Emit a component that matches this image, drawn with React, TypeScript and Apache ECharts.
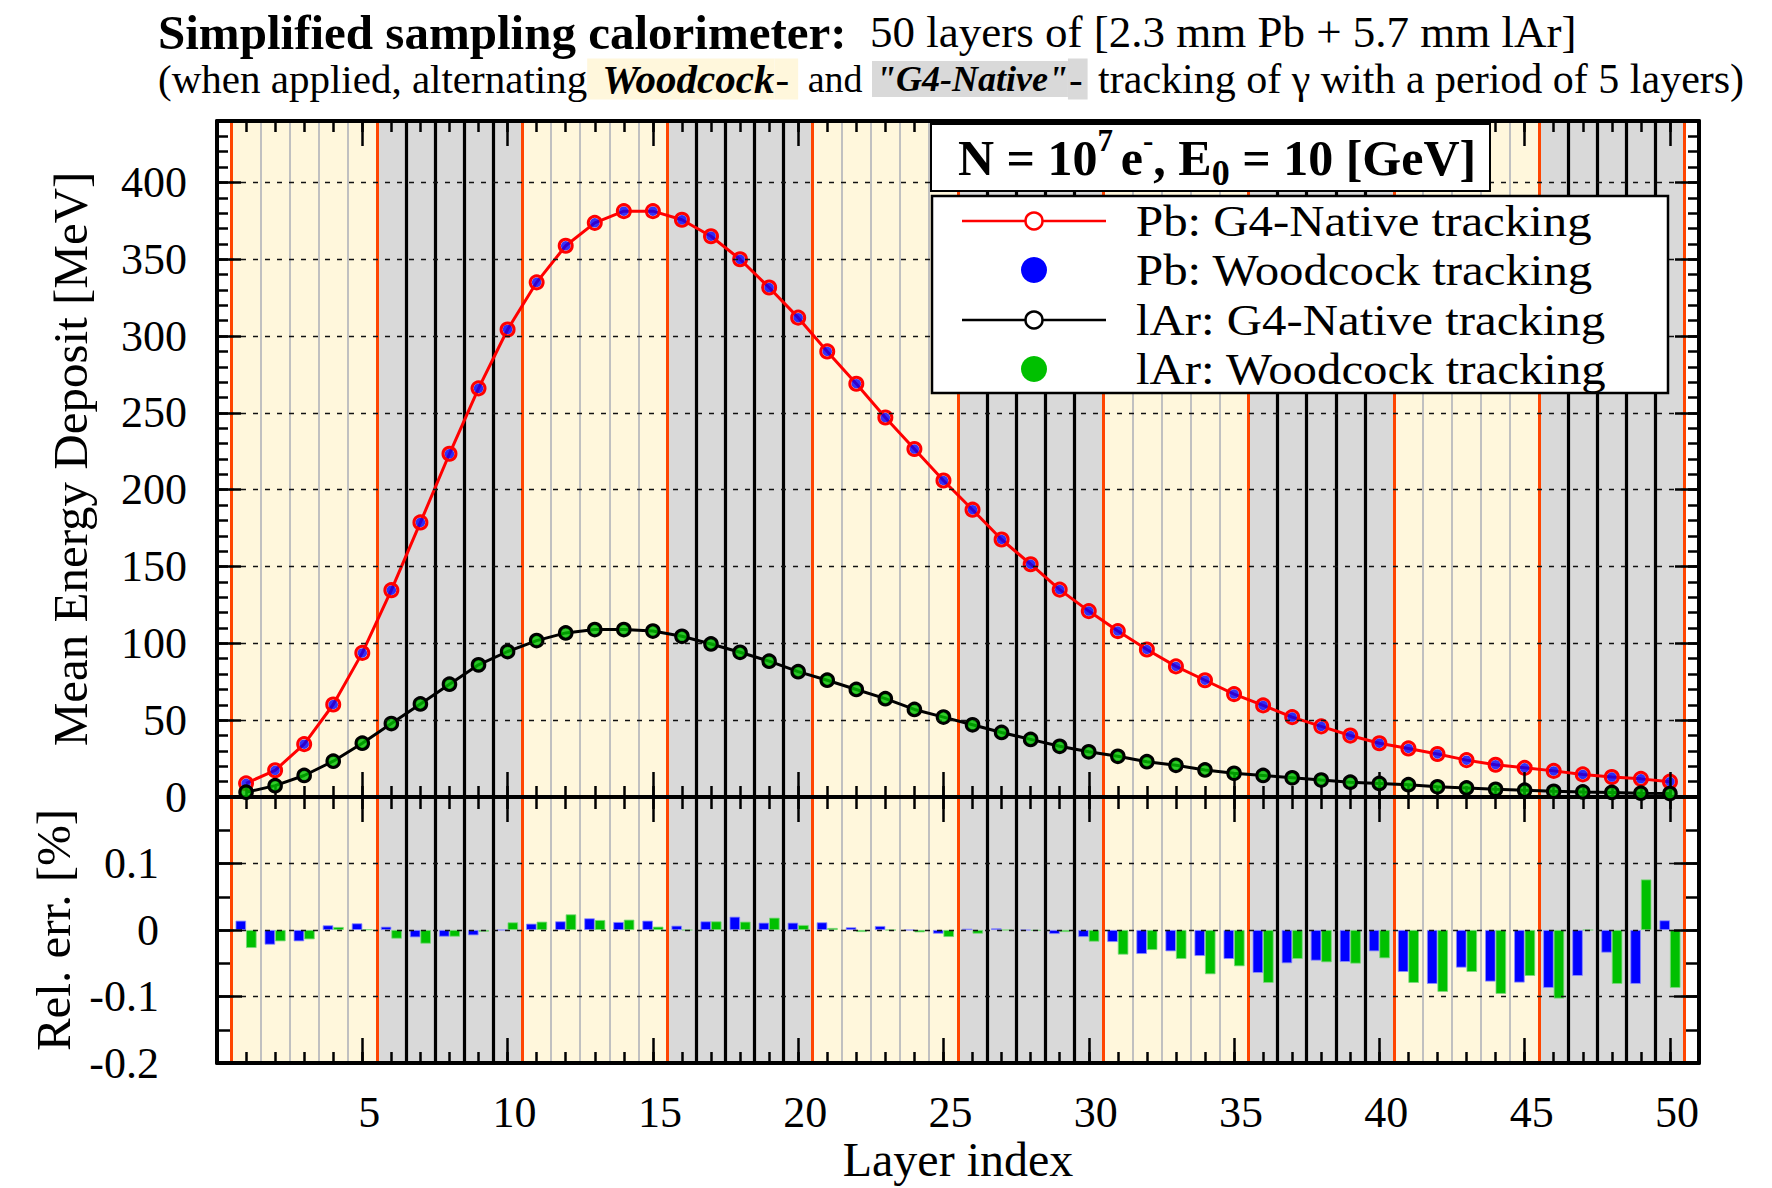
import React, { useEffect, useRef } from "react";
import * as echarts from "echarts";

// ---------------- data ----------------
const layers = [
  1, 2, 3, 4, 5, 6, 7, 8, 9, 10, 11, 12, 13, 14, 15, 16, 17, 18, 19, 20, 21, 22, 23, 24, 25,
  26, 27, 28, 29, 30, 31, 32, 33, 34, 35, 36, 37, 38, 39, 40, 41, 42, 43, 44, 45, 46, 47, 48, 49, 50,
];
// tracking mode of each block of 5 layers
const blockTracking = [
  "Woodcock", "G4-Native", "Woodcock", "G4-Native", "Woodcock",
  "G4-Native", "Woodcock", "G4-Native", "Woodcock", "G4-Native",
];
const pbNative = [
  8.9, 17.4, 34.4, 60.2, 93.8, 134.6, 178.7, 223.4, 266, 304.3,
  335, 358.8, 373.7, 381.3, 381.3, 375.7, 365, 350, 331.6, 312,
  290, 269, 247, 226.5, 206, 187, 167.6, 151.5, 135, 121,
  108, 96, 85, 76, 67, 59.6, 52, 46, 40, 35,
  31.6, 28, 24, 21, 19, 17, 14.7, 13, 11.8, 10,
];
const pbWoodcock = [
  8.9, 17.4, 34.4, 60.2, 93.8, 134.6, 178.7, 223.4, 266, 304.3,
  335, 358.8, 373.7, 381.3, 381.3, 375.7, 365, 350, 331.6, 312,
  290, 269, 247, 226.5, 206, 187, 167.6, 151.5, 135, 121,
  108, 96, 85, 76, 67, 59.6, 52, 46, 40, 35,
  31.6, 28, 24, 21, 19, 17, 14.7, 13, 11.8, 10,
];
const arNative = [
  3.1, 7.4, 14, 23.3, 35, 47.8, 60.6, 73.4, 86, 94.7,
  101.8, 106.8, 109, 109, 108, 104.6, 99.6, 94.2, 88.4, 81.6,
  76, 70, 64, 57, 52, 47, 42, 37.5, 33, 29.4,
  26.5, 23, 20.6, 17.6, 15.4, 14, 12.5, 11, 9.6, 8.8,
  8, 6.6, 5.9, 5, 4.4, 3.7, 3.3, 3, 2.5, 2.2,
];
const arWoodcock = [
  3.1, 7.4, 14, 23.3, 35, 47.8, 60.6, 73.4, 86, 94.7,
  101.8, 106.8, 109, 109, 108, 104.6, 99.6, 94.2, 88.4, 81.6,
  76, 70, 64, 57, 52, 47, 42, 37.5, 33, 29.4,
  26.5, 23, 20.6, 17.6, 15.4, 14, 12.5, 11, 9.6, 8.8,
  8, 6.6, 5.9, 5, 4.4, 3.7, 3.3, 3, 2.5, 2.2,
];
// relative error [%]
const relErrPb = [
  0.014, -0.022, -0.017, 0.007, 0.01, 0.005, -0.011, -0.01, -0.008, 0.0,
  0.0095, 0.013, 0.0175, 0.012, 0.014, 0.0065, 0.013, 0.02, 0.011, 0.011,
  0.0115, 0.004, 0.006, 0.0, -0.0055, 0.002, 0.0025, 0.0, -0.006, -0.0105,
  -0.018, -0.036, -0.032, -0.039, -0.0435, -0.0645, -0.05, -0.046, -0.048, -0.032,
  -0.063, -0.081, -0.0565, -0.0775, -0.079, -0.087, -0.069, -0.034, -0.081, 0.0145,
];
const relErrAr = [
  -0.027, -0.017, -0.014, 0.0045, 0.001, -0.013, -0.0205, -0.01, -0.0025, 0.0115,
  0.0125, 0.0235, 0.015, 0.0155, 0.005, 0.0, 0.013, 0.0125, 0.0185, 0.0075,
  0.003, -0.003, 0.0, -0.0035, -0.0105, -0.0055, 0.0, -0.001, -0.003, -0.0175,
  -0.037, -0.03, -0.0435, -0.0665, -0.0545, -0.0795, -0.0435, -0.0485, -0.0505, -0.0425,
  -0.0795, -0.093, -0.063, -0.096, -0.069, -0.103, 0.0, -0.081, 0.076, -0.087,
];
const xTickLabels = [5, 10, 15, 20, 25, 30, 35, 40, 45, 50];
const yTopTickLabels = [0, 50, 100, 150, 200, 250, 300, 350, 400];
const yBottomTickLabels = ["-0.2", "-0.1", "0", "0.1"];

const seriesNames = [
  "Pb: G4-Native tracking",
  "Pb: Woodcock tracking",
  "lAr: G4-Native tracking",
  "lAr: Woodcock tracking",
];

// ---------------- style ----------------
const FONT = "'Liberation Serif', 'Times New Roman', serif";
const RED = "#ff0000";
const BLUE = "#0000ff";
const GREEN = "#00c000";
const BLACK = "#000000";
const YELLOW_BG = "#fff7dc";
const GRAY_BG = "#d9d9d9";

const G0 = { left: 217, top: 121, width: 1482, height: 676 };
const G1 = { left: 217, top: 797, width: 1482, height: 266 };

const frameLine = { show: true, onZero: false, lineStyle: { color: BLACK, width: 4 } };
const noLine = { show: false, onZero: false };

function xAx(gridIndex: number, position: string, interval: number, len: number, frame: boolean, extra: any = {}) {
  return {
    type: "value",
    gridIndex,
    position,
    min: 0,
    max: 51,
    interval,
    axisLine: frame ? frameLine : noLine,
    axisTick: { show: true, inside: true, length: len, lineStyle: { color: BLACK, width: 2.5 } },
    axisLabel: { show: false },
    splitLine: { show: false },
    z: 8,
    ...extra,
  };
}

function yAx(gridIndex: number, position: string, min: number, max: number, interval: number, len: number, frame: boolean, extra: any = {}) {
  return {
    type: "value",
    gridIndex,
    position,
    min,
    max,
    interval,
    axisLine: frame ? frameLine : noLine,
    axisTick: { show: true, inside: true, length: len, lineStyle: { color: BLACK, width: 2.5 } },
    axisLabel: { show: false },
    splitLine: { show: false },
    z: 8,
    ...extra,
  };
}

const dashed = { show: true, lineStyle: { color: "#111", width: 1.3, type: [5, 7] } };

function buildBackground(xi: number, yi: number, name: string) {
  const blockColor: Record<string, string> = { Woodcock: YELLOW_BG, "G4-Native": GRAY_BG };
  const bands = blockTracking.map((t, i) => [
    { xAxis: i * 5 + 0.5, itemStyle: { color: blockColor[t], opacity: 1, borderWidth: 0 } },
    { xAxis: i * 5 + 5.5 },
  ]);
  const lines: any[] = [];
  for (let k = 0; k <= layers.length; k++) {
    let st: any;
    if (k % 5 === 0) st = { color: "#ff4500", width: 3 };
    else if (blockTracking[Math.floor(k / 5)] === "Woodcock") st = { color: "#c0c0c0", width: 2 };
    else st = { color: BLACK, width: 3.2 };
    lines.push({ xAxis: k + 0.5, lineStyle: { ...st, type: "solid" } });
  }
  return {
    type: "line",
    name,
    xAxisIndex: xi,
    yAxisIndex: yi,
    data: [],
    z: 1,
    silent: true,
    markArea: { silent: true, data: bands },
    markLine: {
      silent: true,
      symbol: ["none", "none"],
      label: { show: false },
      emphasis: { disabled: true },
      lineStyle: { type: "solid" },
      data: lines,
    },
  };
}

function buildOption() {
  const pair = (arr: number[]) => layers.map((l, i) => [l, arr[i]]);

  const xAxes = [
    xAx(0, "bottom", 1, 11, true),
    xAx(0, "bottom", 5, 25, false),
    xAx(0, "top", 1, 11, true),
    xAx(0, "top", 5, 25, false),
    xAx(1, "top", 1, 12, true),
    xAx(1, "top", 5, 25, false),
    xAx(1, "bottom", 1, 11, true),
    xAx(1, "bottom", 5, 25, false, {
      axisLabel: {
        show: true,
        margin: 27,
        padding: [0, 0, 0, 14],
        fontFamily: FONT,
        fontSize: 44,
        color: BLACK,
        showMaxLabel: false,
        formatter: (v: number) => (xTickLabels.includes(Math.round(v)) && Math.abs(v - Math.round(v)) < 1e-6 ? String(Math.round(v)) : ""),
      },
      name: "Layer index",
      nameLocation: "middle",
      nameGap: 72,
      nameTextStyle: { fontFamily: FONT, fontSize: 48, color: BLACK },
    }),
  ];

  const yAxes = [
    yAx(0, "left", 0, 440, 50, 24, true, {
      splitLine: dashed,
      axisLabel: {
        show: true,
        margin: 30,
        fontFamily: FONT,
        fontSize: 44,
        color: BLACK,
        showMinLabel: true,
        showMaxLabel: false,
        formatter: (v: number) => (yTopTickLabels.includes(Math.round(v)) ? String(Math.round(v)) : ""),
      },
      name: "Mean Energy Deposit [MeV]",
      nameLocation: "middle",
      nameGap: 122,
      nameTextStyle: { fontFamily: FONT, fontSize: 49, color: BLACK },
    }),
    yAx(0, "left", 0, 440, 10, 11, false),
    yAx(0, "right", 0, 440, 50, 24, true),
    yAx(0, "right", 0, 440, 10, 11, false),
    yAx(1, "left", -0.2, 0.2, 0.1, 25, true, {
      splitLine: dashed,
      axisLabel: {
        show: true,
        margin: 58,
        fontFamily: FONT,
        fontSize: 44,
        color: BLACK,
        showMinLabel: true,
        showMaxLabel: false,
        formatter: (v: number) => {
          const r = Math.round(v * 10) / 10;
          const s = r === 0 ? "0" : String(r);
          return yBottomTickLabels.includes(s) ? s : "";
        },
      },
      name: "Rel. err. [%]",
      nameLocation: "middle",
      nameGap: 122,
      nameTextStyle: { fontFamily: FONT, fontSize: 49, color: BLACK },
    }),
    yAx(1, "left", -0.2, 0.2, 0.05, 13, false),
    yAx(1, "right", -0.2, 0.2, 0.1, 25, true),
    yAx(1, "right", -0.2, 0.2, 0.05, 13, false),
  ];

  const series: any[] = [
    buildBackground(0, 0, "bg-top"),
    buildBackground(6, 4, "bg-bottom"),
    {
      type: "line",
      name: seriesNames[0],
      xAxisIndex: 0,
      yAxisIndex: 0,
      data: pair(pbNative),
      symbol: "circle",
      symbolSize: 13,
      itemStyle: { color: "rgba(0,0,0,0)", borderColor: RED, borderWidth: 3 },
      lineStyle: { color: RED, width: 3 },
      z: 5,
    },
    {
      type: "scatter",
      name: seriesNames[1],
      xAxisIndex: 0,
      yAxisIndex: 0,
      data: pair(pbWoodcock),
      symbol: "circle",
      symbolSize: 9.5,
      itemStyle: { color: BLUE },
      z: 6,
    },
    {
      type: "line",
      name: seriesNames[2],
      xAxisIndex: 0,
      yAxisIndex: 0,
      data: pair(arNative),
      symbol: "circle",
      symbolSize: 12,
      itemStyle: { color: "rgba(0,0,0,0)", borderColor: BLACK, borderWidth: 3.6 },
      lineStyle: { color: BLACK, width: 3 },
      z: 7,
    },
    {
      type: "scatter",
      name: seriesNames[3],
      xAxisIndex: 0,
      yAxisIndex: 0,
      data: pair(arWoodcock),
      symbol: "circle",
      symbolSize: 9.5,
      itemStyle: { color: GREEN },
      z: 8,
    },
    {
      type: "bar",
      name: "Pb rel. err.",
      xAxisIndex: 6,
      yAxisIndex: 4,
      data: pair(relErrPb),
      barWidth: 10.5,
      barGap: "0%",
      itemStyle: { color: BLUE, borderColor: "#8a8aff", borderWidth: 0.8 },
      z: 5,
    },
    {
      type: "bar",
      name: "lAr rel. err.",
      xAxisIndex: 6,
      yAxisIndex: 4,
      data: pair(relErrAr),
      barWidth: 10.5,
      barGap: "0%",
      itemStyle: { color: GREEN, borderColor: "#7ad87a", borderWidth: 0.8 },
      z: 5,
    },
  ];

  // ---- legend + titles as graphic ----
  const legendX0 = 932, legendY0 = 196, legendW = 736, legendH = 197;
  const rowY = [221, 270, 320, 369];
  const iconKinds = [
    { kind: "line", color: RED },
    { kind: "dot", color: BLUE },
    { kind: "line", color: BLACK },
    { kind: "dot", color: GREEN },
  ];
  const legendEls: any[] = [
    {
      type: "rect",
      z: 100,
      shape: { x: legendX0, y: legendY0, width: legendW, height: legendH },
      style: { fill: "#fff", stroke: BLACK, lineWidth: 2.5 },
    },
  ];
  iconKinds.forEach((ic, i) => {
    const cy = rowY[i];
    if (ic.kind === "line") {
      legendEls.push({
        type: "line",
        z: 101,
        shape: { x1: 962, y1: cy, x2: 1106, y2: cy },
        style: { stroke: ic.color, lineWidth: 2.5 },
      });
      legendEls.push({
        type: "circle",
        z: 102,
        shape: { cx: 1034, cy, r: 8.5 },
        style: { fill: "#fff", stroke: ic.color, lineWidth: 2.5 },
      });
    } else {
      legendEls.push({
        type: "circle",
        z: 102,
        shape: { cx: 1034, cy, r: 13 },
        style: { fill: ic.color },
      });
    }
    legendEls.push({
      type: "text",
      z: 102,
      x: 1136,
      y: cy,
      scaleX: 1.11,
      style: {
        x: 0,
        y: 0,
        text: seriesNames[i],
        fontFamily: FONT,
        fontSize: 44,
        fill: BLACK,
        align: "left",
        verticalAlign: "middle",
      },
    });
  });

  const nBox: any[] = [
    {
      type: "rect",
      z: 100,
      shape: { x: 931, y: 124, width: 559, height: 67 },
      style: { fill: "#fff", stroke: BLACK, lineWidth: 2 },
    },
    {
      type: "text",
      z: 102,
      style: {
        x: 958,
        y: 158,
        text: "{b|N = 10}{sup|7 }{b|e}{sup|-}{b|, E}{sub|0}{b| = 10 [GeV]}",
        align: "left",
        verticalAlign: "middle",
        rich: {
          b: { fontFamily: FONT, fontSize: 50, fontWeight: "bold", fill: BLACK, lineHeight: 66 },
          sup: { fontFamily: FONT, fontSize: 31, fontWeight: "bold", fill: BLACK, lineHeight: 30, verticalAlign: "top" },
          sub: { fontFamily: FONT, fontSize: 36, fontWeight: "bold", fill: BLACK, lineHeight: 34, verticalAlign: "bottom" },
        },
      },
    },
  ];

  const titles: any[] = [
    {
      type: "text",
      z: 102,
      style: {
        x: 158,
        y: 32,
        text: "Simplified sampling calorimeter:",
        fontFamily: FONT,
        fontSize: 49,
        fontWeight: "bold",
        fill: BLACK,
        align: "left",
        verticalAlign: "middle",
      },
    },
    {
      type: "text",
      z: 102,
      style: {
        x: 870,
        y: 32,
        text: "50 layers of [2.3 mm Pb + 5.7 mm lAr]",
        fontFamily: FONT,
        fontSize: 45,
        fill: BLACK,
        align: "left",
        verticalAlign: "middle",
      },
    },
    {
      type: "text",
      z: 102,
      style: {
        x: 158,
        y: 79,
        text:
          '{n|(when applied, alternating}{w|Woodcock}{wd|-}{a| and }{g|"G4-Native"}{gd|-}{e| tracking of γ with a period of 5 layers)}',
        align: "left",
        verticalAlign: "middle",
        rich: {
          n: { fontFamily: FONT, fontSize: 41, fill: BLACK, lineHeight: 40 },
          w: {
            fontFamily: FONT, fontSize: 41, fontWeight: "bold", fontStyle: "italic", fill: BLACK,
            lineHeight: 40, backgroundColor: YELLOW_BG, padding: [0, 0, 0, 15],
          },
          wd: { fontFamily: FONT, fontSize: 41, fill: BLACK, lineHeight: 40, backgroundColor: YELLOW_BG, padding: [0, 9, 0, 1] },
          a: { fontFamily: FONT, fontSize: 38, fill: BLACK, lineHeight: 40 },
          g: {
            fontFamily: FONT, fontSize: 36, fontWeight: "bold", fontStyle: "italic", fill: BLACK,
            lineHeight: 40, backgroundColor: GRAY_BG, padding: [0, 0, 0, 4],
          },
          gd: { fontFamily: FONT, fontSize: 41, fill: BLACK, lineHeight: 40, backgroundColor: GRAY_BG, padding: [0, 5, 0, 1] },
          e: { fontFamily: FONT, fontSize: 42, fill: BLACK, lineHeight: 40 },
        },
      },
    },
  ];

  return {
    animation: false,
    backgroundColor: "#ffffff",
    grid: [
      { ...G0, containLabel: false },
      { ...G1, containLabel: false },
    ],
    xAxis: xAxes,
    yAxis: yAxes,
    series,
    graphic: { elements: [...titles, ...nBox, ...legendEls] },
  };
}

export default function App() {
  const ref = useRef<HTMLDivElement>(null);
  useEffect(() => {
    if (!ref.current) return;
    const chart = echarts.init(ref.current, null, { renderer: "svg" });
    chart.setOption(buildOption() as any);
    return () => chart.dispose();
  }, []);
  return (
    <div
      ref={ref}
      style={{ position: "fixed", left: 0, top: 0, width: 1772, height: 1188, background: "#fff" }}
    />
  );
}
